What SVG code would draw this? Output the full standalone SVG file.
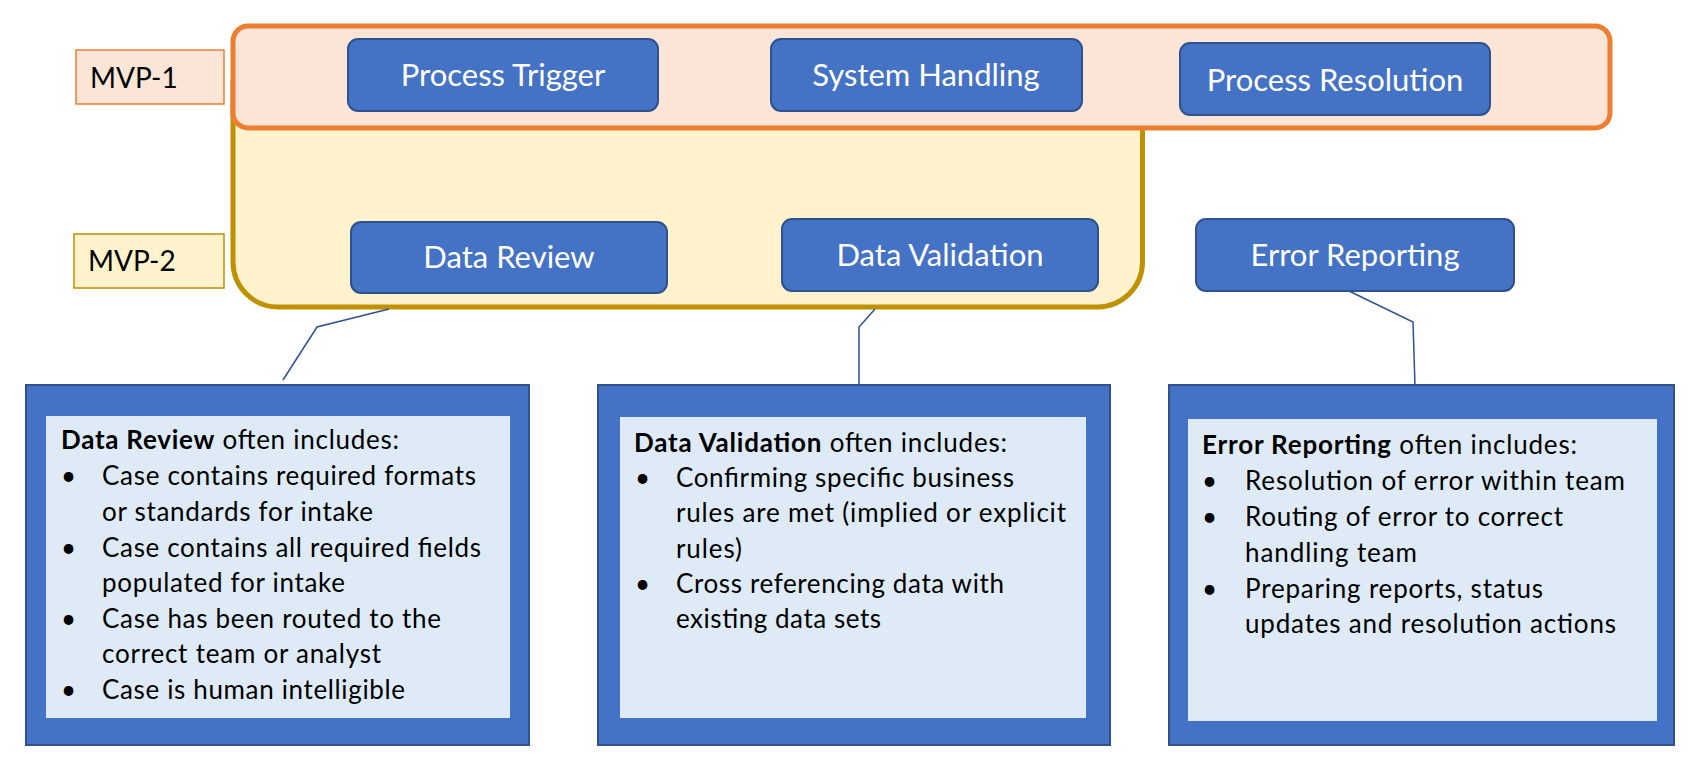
<svg xmlns="http://www.w3.org/2000/svg" width="1694" height="765" viewBox="0 0 1694 765">
<style>
.t{font-family:Lato,"Open Sans",sans-serif}
.node rect{fill:#4472C4;stroke:#2F528F;stroke-width:2}
.node text{fill:#fff;font-size:31px;text-anchor:middle}
.lbl text{fill:#000;font-size:28px}
.body{fill:#000;font-size:26px;font-family:Lato,"Open Sans",sans-serif}
.inner{fill:#DEEBF7}
.outer{fill:#4472C4;stroke:#2F528F;stroke-width:2}
.conn{fill:none;stroke:#2F528F;stroke-width:1.5}
</style>
<rect width="1694" height="765" fill="#fff"/>
<g id="mvp2-container"><rect x="233" y="40" width="909.5" height="267" rx="45" fill="#FFF2CC" stroke="#BF9000" stroke-width="5"/></g>
<g id="mvp1-container"><rect x="233" y="26" width="1377" height="102" rx="15" fill="#FBE5D6" stroke="#ED7D31" stroke-width="5"/></g>
<g id="mvp1-label" class="lbl t"><rect x="76" y="50" width="148" height="54" fill="#FBE5D6" stroke="#ED7D31" stroke-width="1.5"/><text x="90" y="88">MVP-1</text></g>
<g id="mvp2-label" class="lbl t"><rect x="74" y="234" width="150" height="54" fill="#FFF2CC" stroke="#BF9000" stroke-width="1.5"/><text x="88" y="271">MVP-2</text></g>
<g id="process-trigger" class="node t"><rect x="348" y="39" width="310" height="72" rx="10"/><text x="503" y="86">Process Trigger</text></g>
<g id="system-handling" class="node t"><rect x="771" y="39" width="311" height="72" rx="10"/><text x="926" y="86">System Handling</text></g>
<g id="process-resolution" class="node t"><rect x="1180" y="43" width="310" height="72" rx="10"/><text x="1335" y="91">Process Resolution</text></g>
<g id="data-review" class="node t"><rect x="351" y="222" width="316" height="71" rx="10"/><text x="509" y="268">Data Review</text></g>
<g id="data-validation" class="node t"><rect x="782" y="219" width="316" height="72" rx="10"/><text x="940" y="266">Data Validation</text></g>
<g id="error-reporting" class="node t"><rect x="1196" y="219" width="318" height="72" rx="10"/><text x="1355" y="266">Error Reporting</text></g>
<g id="connectors">
<polyline class="conn" points="389,309 317,327 283,380"/>
<polyline class="conn" points="875,309 859,327 859,386"/>
<polyline class="conn" points="1349,291 1413,322 1415,386"/>
</g>
<g id="data-review-detail">
<rect class="outer" x="26" y="385" width="503" height="360"/>
<rect class="inner" x="46" y="416" width="464" height="302"/>
<text class="body" x="61" y="449" textLength="338" lengthAdjust="spacing"><tspan font-weight="bold">Data Review</tspan> often includes:</text>
<text class="body" x="61" y="485">•</text><text class="body" x="102" y="485" textLength="374" lengthAdjust="spacing">Case contains required formats</text>
<text class="body" x="102" y="521" textLength="271" lengthAdjust="spacing">or standards for intake</text>
<text class="body" x="61" y="557">•</text><text class="body" x="102" y="557" textLength="379" lengthAdjust="spacing">Case contains all required fields</text>
<text class="body" x="102" y="592" textLength="243" lengthAdjust="spacing">populated for intake</text>
<text class="body" x="61" y="628">•</text><text class="body" x="102" y="628" textLength="339" lengthAdjust="spacing">Case has been routed to the</text>
<text class="body" x="102" y="663" textLength="279" lengthAdjust="spacing">correct team or analyst</text>
<text class="body" x="61" y="699">•</text><text class="body" x="102" y="699" textLength="303" lengthAdjust="spacing">Case is human intelligible</text>
</g>
<g id="data-validation-detail">
<rect class="outer" x="598" y="385" width="512" height="360"/>
<rect class="inner" x="620" y="417" width="466" height="301"/>
<text class="body" x="634" y="452" textLength="373" lengthAdjust="spacing"><tspan font-weight="bold">Data Validation</tspan> often includes:</text>
<text class="body" x="635" y="487">•</text><text class="body" x="676" y="487" textLength="338" lengthAdjust="spacing">Confirming specific business</text>
<text class="body" x="676" y="522" textLength="390" lengthAdjust="spacing">rules are met (implied or explicit</text>
<text class="body" x="676" y="558" textLength="66" lengthAdjust="spacing">rules)</text>
<text class="body" x="635" y="593">•</text><text class="body" x="676" y="593" textLength="328" lengthAdjust="spacing">Cross referencing data with</text>
<text class="body" x="676" y="628" textLength="205" lengthAdjust="spacing">existing data sets</text>
</g>
<g id="error-reporting-detail">
<rect class="outer" x="1169" y="385" width="505" height="360"/>
<rect class="inner" x="1188" y="419" width="469" height="302"/>
<text class="body" x="1202" y="454" textLength="375" lengthAdjust="spacing"><tspan font-weight="bold">Error Reporting</tspan> often includes:</text>
<text class="body" x="1202" y="490">•</text><text class="body" x="1245" y="490" textLength="380" lengthAdjust="spacing">Resolution of error within team</text>
<text class="body" x="1202" y="526">•</text><text class="body" x="1245" y="526" textLength="318" lengthAdjust="spacing">Routing of error to correct</text>
<text class="body" x="1245" y="562" textLength="172" lengthAdjust="spacing">handling team</text>
<text class="body" x="1202" y="598">•</text><text class="body" x="1245" y="598" textLength="298" lengthAdjust="spacing">Preparing reports, status</text>
<text class="body" x="1245" y="633" textLength="371" lengthAdjust="spacing">updates and resolution actions</text>
</g>
</svg>
